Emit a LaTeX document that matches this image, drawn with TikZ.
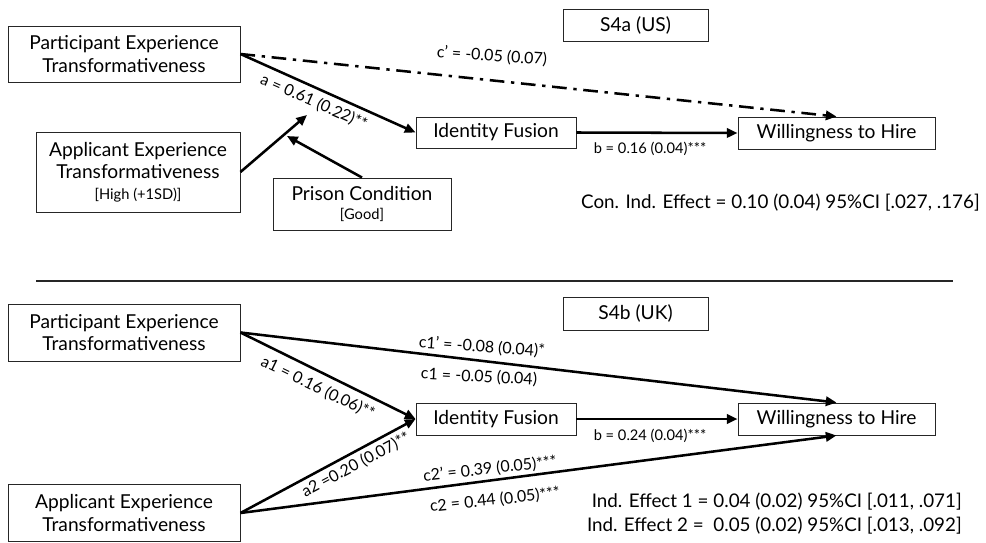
\documentclass[tikz,border=0pt]{standalone}
\usepackage{fontspec}
\setmainfont{Lato}
\usetikzlibrary{arrows.meta}
\newcommand\subtextfont{\fontsize{11}{12}\selectfont}
\begin{document}
\begin{tikzpicture}[x=0.75pt,y=-0.75pt,
  box/.style={draw=black!85,line width=0.7pt,fill=white,align=center,inner sep=0pt,
    font=\fontsize{14.4}{16.8}\selectfont},
  lab/.style={font=\fontsize{12}{13}\selectfont,inner sep=1pt},
  blab/.style={font=\fontsize{11}{13}\selectfont,inner sep=1pt},
  note/.style={font=\fontsize{14.1}{18}\selectfont,align=right,inner sep=0pt},
  arr/.style={line width=1.9pt,-{Triangle[length=8pt,width=7pt]}},
  dd/.style={arr,dash pattern=on 11pt off 5pt on 2.5pt off 5pt}]
\useasboundingbox (0,0) rectangle (986,543);
% top panel
\node[box,minimum width=232*0.75pt,minimum height=56*0.75pt] (pe1) at (124,54) {Participant Experience\\Transformativeness};
\node[box,minimum width=204*0.75pt,minimum height=80*0.75pt] (ae1) at (138,172) {Applicant Experience\\Transformativeness\\[-1pt]{\subtextfont[High (+1SD)]}};
\node[box,minimum width=178*0.75pt,minimum height=52*0.75pt] (pc) at (362,204) {Prison Condition\\[-2pt]{\subtextfont[Good]}};
\node[box,minimum width=160*0.75pt,minimum height=31*0.75pt] (if1) at (496,132.5) {Identity Fusion};
\node[box,minimum width=197*0.75pt,minimum height=32*0.75pt] (wh1) at (836.5,133) {Willingness to Hire};
\node[box,minimum width=145*0.75pt,minimum height=32*0.75pt] (s4a) at (635.5,25) {S4a (US)};
\coordinate (m1) at (307,115);
\coordinate (m2) at (287,136);
\draw[dd] (pe1.east) -- (wh1.north);
\draw[arr] (pe1.east) -- (if1.west);
\draw[arr] (if1.east) -- (wh1.west);
\draw[arr] (ae1.east) -- (m1);
\draw[arr] (pc.north) -- (m2);
\node[lab,rotate=-4] (lc) at (492,56) {c’ = -0.05 (0.07)};
\node[lab,rotate=-24] (la) at (314,102) {a = 0.61 (0.22)**};
\node[blab] (lb) at (650,149) {b = 0.16 (0.04)***};
\node[note,anchor=east] (ce) at (980,203) {Con. Ind. Effect = 0.10 (0.04) 95\%CI [.027, .176]};
% separator
\coordinate (s1) at (36,281);
\coordinate (s2) at (953,281);
\draw[line width=0.9pt,black!85] (s1) -- (s2);
% bottom panel
\node[box,minimum width=232*0.75pt,minimum height=57*0.75pt] (pe2) at (124,332.5) {Participant Experience\\Transformativeness};
\node[box,minimum width=232*0.75pt,minimum height=57*0.75pt] (ae2) at (124,513) {Applicant Experience\\Transformativeness};
\node[box,minimum width=160*0.75pt,minimum height=32*0.75pt] (if2) at (496,419) {Identity Fusion};
\node[box,minimum width=197*0.75pt,minimum height=32*0.75pt] (wh2) at (836.5,419) {Willingness to Hire};
\node[box,minimum width=145*0.75pt,minimum height=33*0.75pt] (s4b) at (635.5,313.5) {S4b (UK)};
\draw[arr] (pe2.east) -- (wh2.north);
\draw[arr] (pe2.east) -- (if2.west);
\draw[arr] (if2.east) -- (wh2.west);
\draw[arr] (ae2.east) -- (if2.west);
\draw[arr] (ae2.east) -- (wh2.south);
\node[lab,rotate=-4] (l1) at (482,347) {c1’ = -0.08 (0.04)*};
\node[lab,rotate=-3] (l2) at (479,377) {c1 = -0.05 (0.04)};
\node[lab,rotate=-26] (l3) at (318,388) {a1 = 0.16 (0.06)**};
\node[lab,rotate=28] (l4) at (356,465) {a2 =0.20 (0.07)**};
\node[lab,rotate=6] (l5) at (490,469) {c2’ = 0.39 (0.05)***};
\node[lab,rotate=6] (l6) at (495,500) {c2 = 0.44 (0.05)***};
\node[blab] (l7) at (650,436) {b = 0.24 (0.04)***};
\node[note,anchor=east] (ie) at (962,514) {Ind. Effect 1 = 0.04 (0.02) 95\%CI [.011, .071]\\Ind. Effect 2 = \ 0.05 (0.02) 95\%CI [.013, .092]};
\end{tikzpicture}
\end{document}
